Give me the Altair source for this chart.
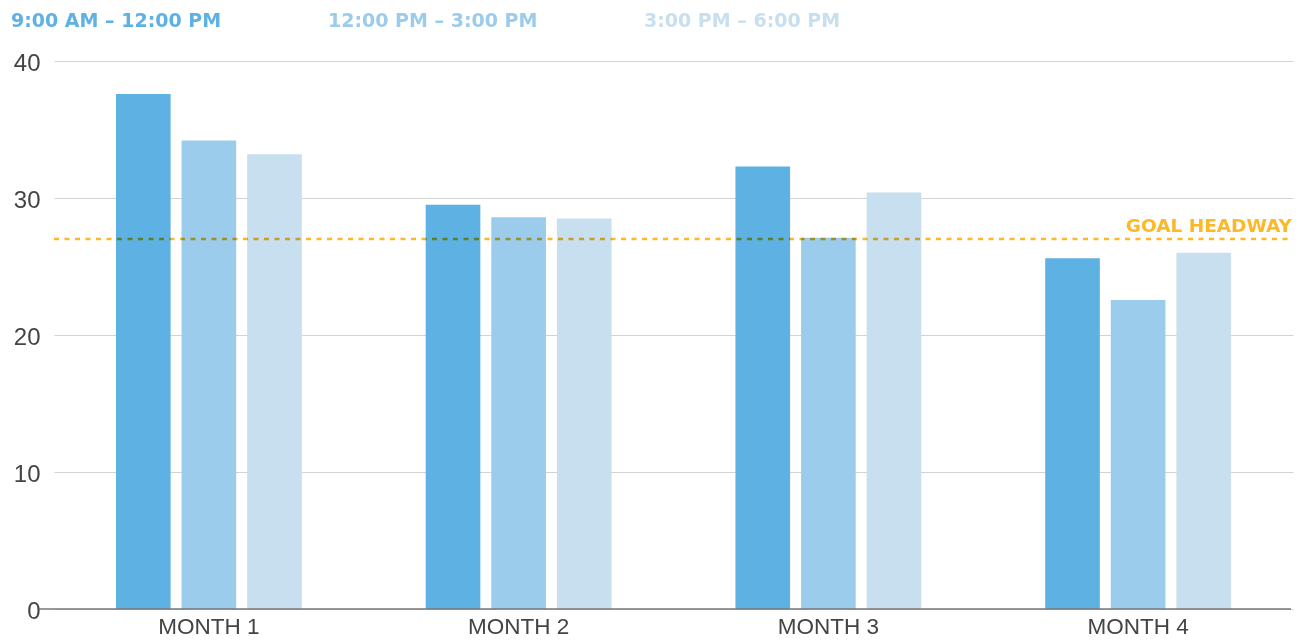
import altair as alt
import pandas as pd

months = ["MONTH 1", "MONTH 2", "MONTH 3", "MONTH 4"]
periods = ["9:00 AM – 12:00 PM", "12:00 PM – 3:00 PM", "3:00 PM – 6:00 PM"]
colors = ["#5EB1E3", "#9BCCEB", "#C7DFEE"]
vals_morning = [37.6, 29.5, 32.3, 25.6]
vals_midday = [34.2, 28.6, 27.1, 22.55]
vals_evening = [33.2, 28.5, 30.4, 26.0]
goal_value = 27.0
goal_label = "GOAL HEADWAY"

rows = []
for series, name in zip([vals_morning, vals_midday, vals_evening], periods):
    for m, v in zip(months, series):
        rows.append({"month": m, "period": name, "value": v})
df = pd.DataFrame(rows)
df_goal = pd.DataFrame({"value": [goal_value], "label": [goal_label]})
df_zero = pd.DataFrame({"value": [0]})

W, H = 1239, 548

label_color_expr = (
    f"datum.value == '{periods[0]}' ? '{colors[0]}' : "
    f"(datum.value == '{periods[1]}' ? '{colors[1]}' : '{colors[2]}')"
)

bars = alt.Chart(df).mark_bar().encode(
    x=alt.X("month:N", sort=months,
            scale=alt.Scale(paddingInner=0.4, paddingOuter=0.2),
            axis=alt.Axis(title=None, labelAngle=0, domain=False, ticks=False,
                          labelFont="Liberation Sans", labelFontSize=22.5,
                          labelColor="#444444", labelPadding=6)),
    xOffset=alt.XOffset("period:N", sort=periods,
                        scale=alt.Scale(domain=periods, paddingInner=0.167, paddingOuter=0)),
    y=alt.Y("value:Q", scale=alt.Scale(domain=[0, 40], nice=False),
            axis=alt.Axis(title=None, values=[0, 10, 20, 30, 40], domain=False, ticks=False,
                          labelFont="Liberation Sans", labelFontSize=24,
                          labelColor="#444444", labelPadding=14, labelOffset=2,
                          gridColor="#d3d3d3", gridWidth=1)),
    color=alt.Color("period:N", sort=periods,
                    scale=alt.Scale(domain=periods, range=colors),
                    legend=alt.Legend(orient="none", legendX=-62, legendY=-50,
                                      direction="horizontal", title=None,
                                      symbolOpacity=0, symbolSize=0, symbolStrokeWidth=0,
                                      labelOffset=0, columnPadding=87, labelLimit=0,
                                      labelFont="DejaVu Sans", labelFontSize=19,
                                      labelFontWeight="bold",
                                      labelColor={"expr": label_color_expr})),
)

baseline = alt.Chart(df_zero).mark_rule(color="#777777", strokeWidth=1.5).encode(
    y="value:Q",
    x=alt.value(-15),
    x2=alt.value(W - 2),
)

goal = alt.Chart(df_goal).mark_rule(color="#FDB827", strokeWidth=2.5,
                                    strokeDash=[5, 5.5], blend="multiply").encode(
    y="value:Q",
    x=alt.value(0),
    x2=alt.value(W - 2),
)

goal_text = alt.Chart(df_goal).mark_text(
    align="right", baseline="bottom", dy=-3, font="DejaVu Sans",
    fontSize=18.5, fontWeight="bold", color="#FDB827"
).encode(
    y="value:Q",
    x=alt.value(W - 1),
    text="label:N",
)

chart = alt.layer(bars, baseline, goal, goal_text).properties(
    width=W, height=H,
    autosize=alt.AutoSizeParams(type="none"),
    padding={"left": 46, "top": 53, "right": 4, "bottom": 30},
).configure_view(stroke=None).configure_axis(labelFontWeight="normal")

chart.save("out.html", embed_options={"renderer": "svg", "actions": False})
